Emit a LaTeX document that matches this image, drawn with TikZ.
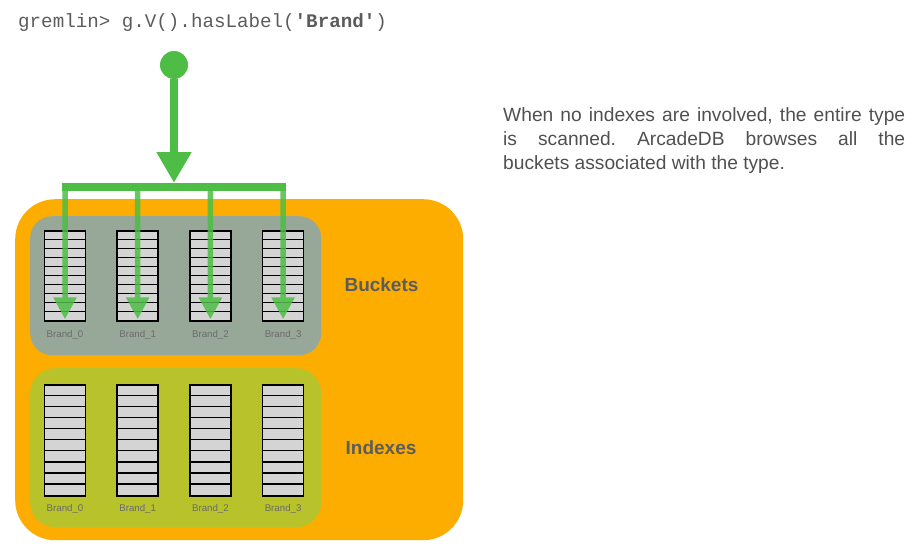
\documentclass[tikz,border=0pt]{standalone}
\usepackage{fontspec}
\setmainfont{Liberation Sans}
\setmonofont{Liberation Mono}
\usetikzlibrary{arrows.meta,positioning}
\definecolor{typeorange}{HTML}{FDAD00}
\definecolor{bucketgray}{HTML}{97A898}
\definecolor{indexolive}{HTML}{B8C22A}
\definecolor{scangreen}{HTML}{4EBD45}
\definecolor{cellgray}{HTML}{D4D4D4}
\definecolor{titlegray}{HTML}{5C5C5C}
\definecolor{labelgray}{HTML}{6B6B6B}
\definecolor{notegray}{HTML}{505050}
\begin{document}
\begin{tikzpicture}[x=1pt,y=-1pt,
        area/.style={rounded corners=#1,minimum width=291pt,anchor=north west,inner sep=0},
        stack/.style={shape=rectangle,draw,line width=1.6pt,fill=cellgray,minimum width=41pt,inner sep=0},
        cellline/.style={line width=1.3pt},
        brandlabel/.style={font=\fontsize{9.7}{11}\selectfont,text=labelgray,inner sep=0},
        boxtitle/.style={font=\fontsize{19}{22}\selectfont\bfseries,text=titlegray},
        scanline/.style={draw=scangreen,line width=5.5pt},
        scanarrow/.style={scanline,-{Triangle[width=22pt,length=22pt]}}
    ]
        \useasboundingbox (0,0) rectangle (920,557);
        \node (query) [anchor=base west,inner sep=0,text=titlegray,font=\ttfamily\fontsize{19.2}{23}\selectfont] at (18,27) {gremlin> g.V().hasLabel(\textbf{'Brand'})};
        \node (note) [anchor=north west,inner sep=0,text width=402pt,align=justify,text=notegray,
            font=\fontsize{19.2}{24}\selectfont] at (503,107) {\frenchspacing\hyphenpenalty=10000
            When no indexes are involved, the entire type\linebreak is scanned. ArcadeDB browses all the\linebreak buckets associated with the type.};

        \node (type) [area=40pt,fill=typeorange,minimum width=448pt,minimum height=341pt] at (15,199) {};
        \node (buckets) [area=22pt,fill=bucketgray,minimum height=139pt] at (30,216) {};
        \node (indexes) [area=25pt,fill=indexolive,minimum height=159pt] at (30,368) {};
        \node (buckets title) [boxtitle] at (381.5,285) {Buckets};
        \node (indexes title) [boxtitle] at (381,448) {Indexes};

        \foreach \i in {0,...,3} {
            \node (bucket \i) [stack,minimum height=90pt] at (65+72.7*\i,276) {};
            \foreach \k in {1,...,9}
                \draw[cellline] ([yshift=-\k*9pt]bucket \i.north west) -- ([yshift=-\k*9pt]bucket \i.north east);
            \node (bucket label \i) [brandlabel,below=8pt of bucket \i] {Brand\_\i};
            \node (index \i) [stack,minimum height=111pt] at (65+72.7*\i,440.5) {};
            \foreach \k in {1,...,9}
                \draw[cellline] ([yshift=-\k*11.1pt]index \i.north west) -- ([yshift=-\k*11.1pt]index \i.north east);
            \node (index label \i) [brandlabel,below=7pt of index \i] {Brand\_\i};
        }

        \node (start) [shape=circle,fill=scangreen,minimum size=28pt,inner sep=0] at (174,65) {};
        \coordinate (split) at (174,183);
        \draw[line width=8pt,draw=scangreen,-{Triangle[width=33pt,length=31pt]}] (start) -- (split);
        \coordinate (bar west) at (61.7,187);
        \coordinate (bar east) at (285.7,187);
        \draw[draw=scangreen,line width=7.5pt] (bar west) -- (bar east);
        \foreach \i in {0,...,3} {
            \coordinate (drop \i) at (65+72.7*\i,190.7);
            \begin{scope}[transparency group,opacity=0.85]
                \draw[scanarrow] (drop \i) -- ([yshift=2.5pt]bucket \i.south);
            \end{scope}
        }
    \end{tikzpicture}
\end{document}
